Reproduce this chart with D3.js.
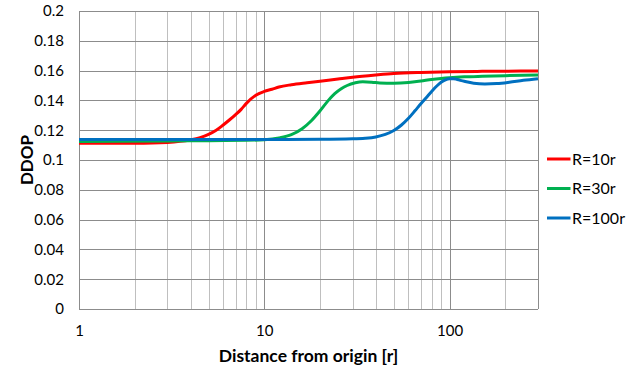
<!DOCTYPE html>
<html>
<head>
<meta charset="utf-8">
<script src="https://cdn.jsdelivr.net/npm/d3@7"></script>
<style>
  html, body { margin: 0; padding: 0; background: #fff; }
  svg { display: block; }
  text { font-family: Lato, "Open Sans", sans-serif; fill: #000; }
</style>
</head>
<body>
<svg id="chart" width="641" height="369"></svg>
<script>
// Distance from origin (in units of r)
const distR10 = [1, 2, 3, 4, 4.5, 5, 5.5, 6, 6.5, 7, 7.5, 8, 9, 10, 11, 12, 14, 17, 20, 25, 30, 40, 50, 70, 100, 150, 200, 300];
const ddopR10 = [0.1112, 0.1113, 0.1118, 0.1135, 0.1150, 0.1172, 0.1200, 0.1235, 0.1270, 0.1305, 0.1340, 0.1380, 0.1435, 0.1460, 0.1475, 0.1490, 0.1505, 0.1518, 0.1528, 0.1543, 0.1555, 0.1570, 0.1580, 0.1588, 0.1593, 0.1595, 0.1596, 0.1597];

const distR30 = [1, 3, 5, 8, 10, 12, 14, 16, 18, 20, 22, 24, 26, 28, 31, 34, 38, 42, 50, 60, 70, 80, 90, 100, 120, 150, 200, 300];
const ddopR30 = [0.1125, 0.1127, 0.1130, 0.1132, 0.1136, 0.1148, 0.1170, 0.1210, 0.1265, 0.1330, 0.1395, 0.1445, 0.1478, 0.1500, 0.1518, 0.1525, 0.1522, 0.1517, 0.1515, 0.1520, 0.1530, 0.1540, 0.1547, 0.1552, 0.1558, 0.1562, 0.1566, 0.1570];

const distR100 = [1, 5, 10, 20, 30, 35, 40, 45, 50, 55, 60, 65, 70, 75, 80, 85, 90, 95, 100, 105, 110, 120, 135, 155, 180, 210, 250, 300];
const ddopR100 = [0.1137, 0.1137, 0.1138, 0.1139, 0.1142, 0.1146, 0.1155, 0.1172, 0.1198, 0.1235, 0.1280, 0.1330, 0.1378, 0.1420, 0.1460, 0.1495, 0.1522, 0.1538, 0.1545, 0.1546, 0.1540, 0.1528, 0.1515, 0.1510, 0.1513, 0.1522, 0.1535, 0.1546];

const seriesNames = ["R=10r", "R=30r", "R=100r"];
const seriesColors = ["#ff0000", "#00b050", "#0070c0"];
const seriesDist = [distR10, distR30, distR100];
const seriesDdop = [ddopR10, ddopR30, ddopR100];

const yTicks = [0, 0.02, 0.04, 0.06, 0.08, 0.1, 0.12, 0.14, 0.16, 0.18, 0.2];
const xLabelTicks = [1, 10, 100];
const xDomain = [1, 300];
const yDomain = [0, 0.2];

const margin = { left: 79, right: 103, top: 11, bottom: 60 };
const W = 641, H = 369;
const svg = d3.select("#chart");

const x = d3.scaleLog().domain(xDomain).range([margin.left, W - margin.right]);
const y = d3.scaleLinear().domain(yDomain).range([H - margin.bottom, margin.top]);

// Vertical gridlines at every log tick (1..9 per decade)
const xGridTicks = [];
for (let d = 1; d <= 100; d *= 10) {
  for (let m = 1; m <= 9; m++) {
    const v = d * m;
    if (v <= xDomain[1]) xGridTicks.push(v);
  }
}

const grid = svg.append("g");
grid.selectAll("line.v")
  .data(xGridTicks)
  .join("line")
  .attr("class", "v")
  .attr("x1", d => Math.round(x(d)) + 0.5)
  .attr("x2", d => Math.round(x(d)) + 0.5)
  .attr("y1", y(yDomain[1]))
  .attr("y2", y(0))
  .attr("stroke", d => (Math.log10(d) % 1 === 0) ? "#8c8c8c" : "#bfbfbf")
  .attr("stroke-width", 1);

// right edge of plot area
grid.append("line")
  .attr("x1", Math.round(x(xDomain[1])) + 0.5)
  .attr("x2", Math.round(x(xDomain[1])) + 0.5)
  .attr("y1", y(yDomain[1]))
  .attr("y2", y(0))
  .attr("stroke", "#8c8c8c");

grid.selectAll("line.h")
  .data(yTicks)
  .join("line")
  .attr("class", "h")
  .attr("x1", x(xDomain[0]))
  .attr("x2", x(xDomain[1]))
  .attr("y1", d => Math.round(y(d)) + 0.5)
  .attr("y2", d => Math.round(y(d)) + 0.5)
  .attr("stroke", "#8c8c8c")
  .attr("stroke-width", 1);

// Y axis tick labels
const yAxis = d3.axisLeft(y).tickValues(yTicks).tickSize(0).tickPadding(15)
  .tickFormat(d => d3.format("")(+d.toFixed(2)));
const gy = svg.append("g").attr("transform", `translate(${x(xDomain[0])},0)`).call(yAxis);
gy.select(".domain").remove();
gy.selectAll("text").style("font-family", "Lato, 'Open Sans', sans-serif").style("font-size", "15px").attr("fill", "#000");

// X axis tick labels
const xAxis = d3.axisBottom(x).tickValues(xLabelTicks).tickSize(0).tickPadding(16)
  .tickFormat(d3.format(""));
const gx = svg.append("g").attr("transform", `translate(0,${y(0)})`).call(xAxis);
gx.select(".domain").remove();
gx.selectAll("text").style("font-family", "Lato, 'Open Sans', sans-serif").style("font-size", "15px").attr("fill", "#000");

// Series lines
const line = d3.line()
  .x(d => x(d[0]))
  .y(d => y(d[1]))
  .curve(d3.curveMonotoneX);

seriesNames.forEach((name, i) => {
  const pts = seriesDist[i].map((d, j) => [d, seriesDdop[i][j]]);
  svg.append("path")
    .datum(pts)
    .attr("fill", "none")
    .attr("stroke", seriesColors[i])
    .attr("stroke-width", 3)
    .attr("stroke-linejoin", "round")
    .attr("d", line);
});

// Axis titles
svg.append("text")
  .attr("x", 308.5)
  .attr("y", 362)
  .attr("text-anchor", "middle")
  .style("font-size", "17.5px")
  .style("font-weight", "bold")
  .text("Distance from origin [r]");

svg.append("text")
  .attr("transform", `translate(33,160) rotate(-90)`)
  .attr("text-anchor", "middle")
  .style("font-size", "17px")
  .style("font-weight", "bold")
  .text("DDOP");

// Legend
const legend = svg.append("g").attr("transform", "translate(547,159)");
seriesNames.forEach((name, i) => {
  const g = legend.append("g").attr("transform", `translate(0,${i * 29.5})`);
  g.append("line").attr("x1", 0).attr("x2", 23.5).attr("y1", 0).attr("y2", 0)
    .attr("stroke", seriesColors[i]).attr("stroke-width", 3);
  g.append("text").attr("x", 25).attr("y", 5.5).style("font-size", "16px").text(name);
});
</script>
</body>
</html>
